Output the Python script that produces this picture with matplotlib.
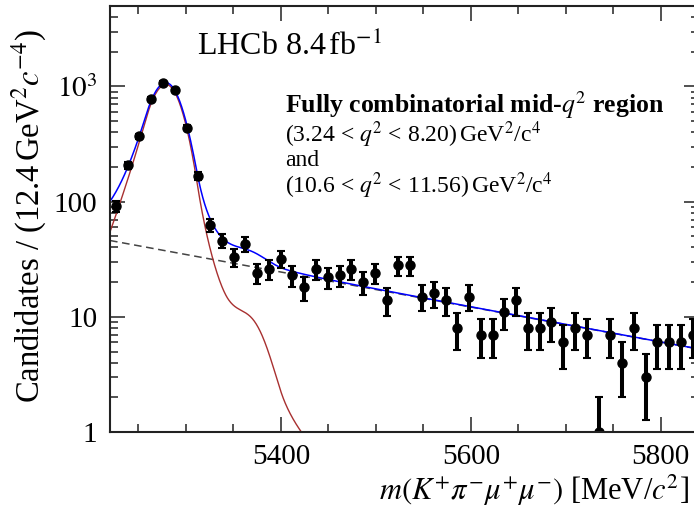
import numpy as np
import matplotlib.pyplot as plt
from matplotlib.ticker import FixedLocator, MultipleLocator, LogLocator, NullFormatter, FixedFormatter

plt.rcParams['font.family'] = ['Liberation Serif', 'DejaVu Serif']
plt.rcParams['mathtext.fontset'] = 'stix'

# histogram: 50 bins of 12.4 MeV/c^2 from 5220 to 5840
m_lo, m_hi, bin_width = 5220.0, 5840.0, 12.4
counts = [91, 207, 370, 782, 1077, 929, 440, 168, 63, 46,
          33, 43, 24, 26, 32, 23, 18, 26, 22, 23,
          26, 20, 24, 14, 28, 28, 15, 16, 14, 8,
          15, 7, 7, 11, 14, 8, 8, 9, 6, 8,
          7, 1, 7, 4, 8, 3, 6, 6, 6, 7]

# fit result
b0_peak = 1040.0
b0_mean = 5279.0
bs_peak = 6.0
bs_mean = 5366.4
sigma_l, sigma_r = 18.0, 16.5
alpha_l, n_l = 1.2, 10.0
alpha_r, n_r = 2.0, 3.0
bkg_norm = 46.0     # background at 5220
bkg_slope = -0.0035


def dscb(m, mean):
    # double sided crystal ball (asymmetric core), peak height 1
    t = np.where(m < mean, (m - mean) / sigma_l, (m - mean) / sigma_r)
    out = np.exp(-0.5 * t**2)
    a_l = (n_l / alpha_l) ** n_l * np.exp(-0.5 * alpha_l**2)
    b_l = n_l / alpha_l - alpha_l
    a_r = (n_r / alpha_r) ** n_r * np.exp(-0.5 * alpha_r**2)
    b_r = n_r / alpha_r - alpha_r
    left = t < -alpha_l
    right = t > alpha_r
    out[left] = a_l * (b_l - t[left]) ** (-n_l)
    out[right] = a_r * (b_r + t[right]) ** (-n_r)
    return out


counts = np.array(counts, dtype=float)
centers = m_lo + bin_width * (np.arange(len(counts)) + 0.5)
errors = np.sqrt(counts)

m = np.linspace(m_lo, m_hi, 1200)
sig = b0_peak * dscb(m, b0_mean) + bs_peak * dscb(m, bs_mean)
bkg = bkg_norm * np.exp(bkg_slope * (m - m_lo))
total = sig + bkg

fig = plt.figure(figsize=(6.94, 5.08), dpi=100)
ax = fig.add_axes([110 / 694, 76 / 508, 588.6 / 694, 426 / 508])

ax.plot(m, bkg, color='#444444', lw=1.1, ls=(0, (5, 3)))
ax.plot(m, sig, color='#a83030', lw=1.0)
ax.plot(m, total, color='#0000ff', lw=1.1)
ax.errorbar(centers, counts, yerr=errors, fmt='o', color='black', ms=6.5,
            elinewidth=2.9, capsize=2.6, capthick=1.5)

ax.set_yscale('log')
ax.set_xlim(m_lo, m_hi)
ax.set_ylim(1, 5000)

ax.xaxis.set_major_locator(FixedLocator([5400, 5600, 5800]))
ax.xaxis.set_minor_locator(MultipleLocator(50))
ax.yaxis.set_major_locator(FixedLocator([1, 10, 100, 1000]))
ax.yaxis.set_major_formatter(FixedFormatter(['1', '10', '100', r'$10^3$']))
ax.yaxis.set_minor_locator(LogLocator(base=10, subs=np.arange(2, 10)))
ax.yaxis.set_minor_formatter(NullFormatter())

ax.tick_params(which='both', direction='in', top=True, right=True, width=1.1,
               labelsize=21, color='#222222')
ax.tick_params(which='major', length=10.5)
ax.tick_params(which='minor', length=5.5)
ax.tick_params(axis='x', pad=9)
ax.tick_params(axis='y', pad=9)
for s in ax.spines.values():
    s.set_linewidth(1.5)
    s.set_color('#222222')

fig.text(689 / 694, 1 - 490 / 508, r'$m(K^{+}\pi^{-}\mu^{+}\mu^{-})$ [MeV/$c^2$]',
         ha='right', va='center', fontsize=22)
fig.text(29 / 694, 1 - 216 / 508, r'Candidates / (12.4$\,$GeV$^2c^{-4}$)',
         rotation=90, ha='center', va='center', fontsize=23.5)

fig.text(197 / 694, 1 - 55 / 508, r'LHCb 8.4$\,$fb$^{-1}$', fontsize=23, va='baseline')
fig.text(285 / 694, 1 - 113 / 508, r'Fully combinatorial mid-$q^2$ region',
         fontsize=18.5, fontweight='bold', va='baseline')
fig.text(285 / 694, 1 - 142 / 508, r'(3.24 < $q^2$ < 8.20)$\,$GeV$^2$/c$^4$',
         fontsize=17, va='baseline')
fig.text(285 / 694, 1 - 166 / 508, 'and', fontsize=17, va='baseline')
fig.text(285 / 694, 1 - 193 / 508, r'(10.6 < $q^2$ < 11.56)$\,$GeV$^2$/c$^4$',
         fontsize=17, va='baseline')

fig.savefig('out.png', dpi=100)
